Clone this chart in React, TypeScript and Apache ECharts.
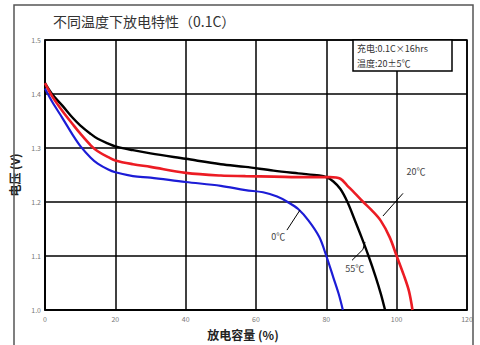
import React, { useEffect, useRef } from "react";
import * as echarts from "echarts";

const titleText = "不同温度下放电特性（0.1C）";
const xName = "放电容量 (%)";
const yName = "电压 (V)";
const legendLines = ["充电:0.1C×16hrs", "温度:20±5℃"];

// 55°C (black)
const cap55 = [0, 2, 5, 8, 10, 13, 15, 18, 20, 25, 30, 40, 50, 57, 65, 72, 78, 80, 82, 84, 86, 88, 90, 92, 94, 95.5, 96.7];
const volt55 = [1.42, 1.4, 1.378, 1.355, 1.342, 1.326, 1.317, 1.308, 1.303, 1.296, 1.29, 1.28, 1.27, 1.265, 1.258, 1.253, 1.249, 1.246, 1.238, 1.224, 1.2, 1.168, 1.135, 1.1, 1.062, 1.03, 1.0];
// 20°C (red)
const cap20 = [0, 2, 5, 8, 10, 13, 15, 18, 20, 25, 30, 40, 50, 57, 65, 75, 81, 84, 86, 88, 90.5, 93, 95.5, 98, 100, 102, 103.5, 104.5];
const volt20 = [1.42, 1.396, 1.368, 1.343, 1.327, 1.305, 1.294, 1.283, 1.277, 1.27, 1.265, 1.254, 1.249, 1.248, 1.247, 1.246, 1.246, 1.243, 1.23, 1.217, 1.2, 1.184, 1.165, 1.135, 1.1, 1.065, 1.035, 1.0];
// 0°C (blue)
const cap0 = [0, 2, 5, 8, 10, 13, 15, 18, 20, 25, 30, 40, 50, 57, 62, 66, 69, 72, 75, 78, 80, 82, 83.5, 84.7];
const volt0 = [1.41, 1.386, 1.355, 1.323, 1.304, 1.282, 1.271, 1.26, 1.255, 1.248, 1.245, 1.237, 1.23, 1.222, 1.218, 1.21, 1.2, 1.187, 1.165, 1.135, 1.1, 1.06, 1.03, 1.0];

const xTicks = [0, 20, 40, 60, 80, 100, 120];
const yTicks = [1.0, 1.1, 1.2, 1.3, 1.4, 1.5];

const annotTexts = ["20℃", "0℃", "55℃"];
const annotPos = [
  [105.5, 1.256],
  [66.3, 1.137],
  [88.1, 1.077],
];
const leaders = [
  [[96.1, 1.174], [101.8, 1.216]],
  [[68.8, 1.148], [72.5, 1.185]],
  [[87.3, 1.092], [90.4, 1.112], [91.0, 1.126]],
];

const zip = (xs: number[], ys: number[]) => xs.map((x, i) => [x, ys[i]]);

export default function App() {
  const ref = useRef<HTMLDivElement>(null);
  useEffect(() => {
    if (!ref.current) return;
    const chart = echarts.init(ref.current, null, { renderer: "svg" });
    const font = "'Noto Sans CJK SC', 'Noto Sans', sans-serif";
    chart.setOption({
      animation: false,
      backgroundColor: "#fff",
      textStyle: { fontFamily: font },
      title: {
        text: titleText,
        left: 48,
        top: 9,
        textStyle: { fontSize: 14, fontWeight: "normal", color: "#333", fontFamily: font },
      },
      grid: { left: 45, right: 13, top: 40, bottom: 32, show: true, borderColor: "#000", borderWidth: 1.5 },
      xAxis: {
        type: "value",
        min: xTicks[0],
        max: xTicks[xTicks.length - 1],
        interval: 20,
        name: xName,
        nameLocation: "middle",
        nameGap: 18,
        nameTextStyle: { fontSize: 12, fontWeight: "bold", color: "#222", padding: [0, 26, 0, 0] },
        axisLine: { lineStyle: { color: "#000", width: 1.5 } },
        axisTick: { show: false },
        axisLabel: { fontSize: 7, color: "#777", margin: 6 },
        splitLine: { lineStyle: { color: "#000", width: 1.5 } },
      },
      yAxis: {
        type: "value",
        min: yTicks[0],
        max: yTicks[yTicks.length - 1],
        interval: 0.1,
        name: yName,
        nameLocation: "middle",
        nameGap: 20,
        nameRotate: 90,
        nameTextStyle: { fontSize: 12, fontWeight: "bold", color: "#222" },
        axisLine: { show: true, lineStyle: { color: "#000", width: 1.5 } },
        axisTick: { show: false },
        axisLabel: { fontSize: 7, color: "#777", margin: 4, formatter: (v: number) => v.toFixed(1) },
        splitLine: { lineStyle: { color: "#000", width: 1.5 } },
      },
      series: [
        {
          name: "55℃",
          type: "line",
          data: zip(cap55, volt55),
          showSymbol: false,
          smooth: 0.35,
          lineStyle: { color: "#000", width: 2.4 },
          z: 3,
        },
        {
          name: "0℃",
          type: "line",
          data: zip(cap0, volt0),
          showSymbol: false,
          smooth: 0.35,
          lineStyle: { color: "#1c1cd6", width: 2.2 },
          z: 3,
        },
        {
          name: "20℃",
          type: "line",
          data: zip(cap20, volt20),
          showSymbol: false,
          smooth: 0.35,
          lineStyle: { color: "#ec1c24", width: 2.6 },
          z: 4,
        },
      ],
    });

    const px = (p: number[]) => chart.convertToPixel({ gridIndex: 0 }, p) as number[];
    const graphics: any[] = [
      {
        type: "rect",
        z: 100,
        shape: { x: 14, y: 5, width: 459, height: 350 },
        style: { fill: "none", stroke: "#555", lineWidth: 1.5 },
      },
      {
        type: "rect",
        z: 100,
        shape: { x: 353, y: 40, width: 99, height: 31 },
        style: { fill: "#fff", stroke: "#000", lineWidth: 1.5 },
      },
      {
        type: "text",
        z: 101,
        x: 357,
        y: 48,
        style: { text: legendLines[0], fontSize: 9, fill: "#333", fontFamily: font, verticalAlign: "middle" },
      },
      {
        type: "text",
        z: 101,
        x: 357,
        y: 63,
        style: { text: legendLines[1], fontSize: 9, fill: "#333", fontFamily: font, verticalAlign: "middle" },
      },
    ];
    annotTexts.forEach((t, i) => {
      const p = px(annotPos[i]);
      graphics.push({
        type: "text",
        z: 101,
        x: p[0],
        y: p[1],
        style: { text: t, fontSize: 9, fill: "#444", fontFamily: font, align: "center", verticalAlign: "middle" },
      });
      graphics.push({
        type: "polyline",
        z: 101,
        shape: { points: leaders[i].map(px) },
        style: { stroke: "#000", lineWidth: 1, fill: "none" },
      });
    });
    chart.setOption({ graphic: graphics });
    return () => chart.dispose();
  }, []);
  return <div ref={ref} style={{ width: 480, height: 345, position: "absolute", left: 0, top: 0 }} />;
}
